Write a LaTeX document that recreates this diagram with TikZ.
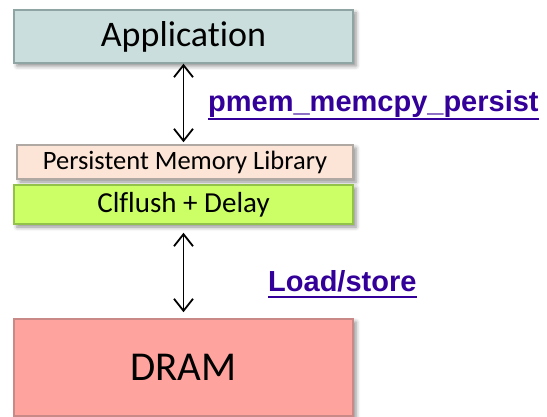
\documentclass[tikz,border=0pt]{standalone}
\usepackage{fontspec}
\setmainfont{Carlito}[Ligatures={NoCommon,NoContextual}]
\newfontfamily\linkfont{Liberation Sans}
\usetikzlibrary{arrows.meta,shadows.blur}

\definecolor{appfill}{HTML}{CADFDD}
\definecolor{appline}{HTML}{8FA5A3}
\definecolor{libfill}{HTML}{FCE4D6}
\definecolor{libline}{HTML}{B0A8A3}
\definecolor{clffill}{HTML}{CCFF66}
\definecolor{clfline}{HTML}{92C24A}
\definecolor{dramfill}{HTML}{FFA39E}
\definecolor{dramline}{HTML}{C98A87}
\definecolor{linkcol}{HTML}{330099}

\tikzset{
  layer/.style={draw, line width=1.5pt, inner sep=0pt, anchor=center,
    blur shadow={shadow xshift=3pt, shadow yshift=-3pt,
      shadow blur radius=4pt, shadow opacity=45}},
  biarrow/.style={line width=1.8pt, {Straight Barb[length=12pt,width=19pt,line width=1.8pt]}-{Straight Barb[length=12pt,width=19pt,line width=1.8pt]}},
  linklabel/.style={inner sep=0pt, anchor=base west, text=linkcol,
    font=\linkfont\bfseries\fontsize{29}{32}\selectfont},
  linkrule/.style={draw=linkcol, line width=2pt}
}

\begin{document}
\begin{tikzpicture}[x=1pt,y=1pt]
  \useasboundingbox (0,0) rectangle (547,-417);

  % stacked layers
  \node[layer, fill=appfill, draw=appline, minimum width=339pt, minimum height=53pt,
        font=\fontsize{36}{40}\selectfont] (app) at (183.5,-36.5) {Application};
  \node[layer, fill=libfill, draw=libline, minimum width=336pt, minimum height=34pt,
        font=\fontsize{26.5}{30}\selectfont] (lib) at (185,-162) {Persistent Memory Library};
  \node[layer, fill=clffill, draw=clfline, minimum width=339pt, minimum height=39pt,
        font=\fontsize{29}{32}\selectfont] (clf) at (183.5,-204.5) {Clflush + Delay};
  \node[layer, fill=dramfill, draw=dramline, minimum width=339pt, minimum height=97pt,
        font=\fontsize{41}{45}\selectfont] (dram) at (183.5,-367.5) {DRAM};

  % interface arrows
  \draw[biarrow, shorten >=2pt] (app.south) -- (app.south |- lib.north);
  \draw[biarrow, shorten <=8pt, shorten >=6pt] (clf.south) -- (dram.north);

  % underlined labels
  \node[linklabel] (memcpy) at (208,-112) {pmem\_memcpy\_persist};
  \draw[linkrule] ([yshift=-7pt]memcpy.base west) -- ([yshift=-7pt]memcpy.base east);
  \node[linklabel] (ldst) at (268,-292) {Load/store};
  \draw[linkrule] ([yshift=-5pt]ldst.base west) -- ([yshift=-5pt]ldst.base east);
\end{tikzpicture}
\end{document}
